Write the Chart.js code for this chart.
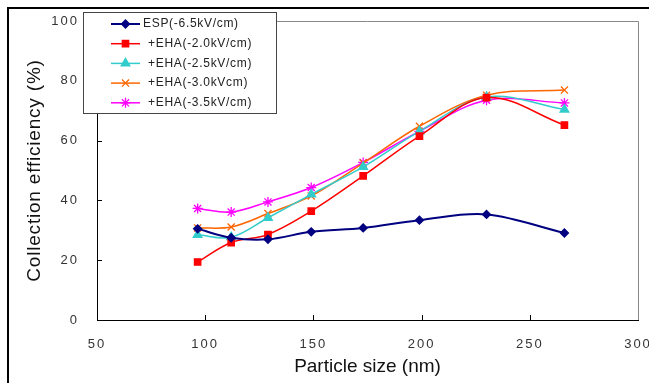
<!DOCTYPE html>
<html lang="en">
<head>
  <meta charset="UTF-8">
  <title>Collection efficiency</title>
  <script src="https://cdn.jsdelivr.net/npm/chart.js"></script>
  <style>
    html, body { margin: 0; padding: 0; background: #fff; }
    .wrap { width: 649px; height: 383px; position: relative; }
  </style>
</head>
<body>
  <div class="wrap"><canvas id="chart" width="649" height="383"></canvas></div>

  <script>
    // Particle sizes (nm)
    const sizes = [96.5, 112, 129, 149, 173, 199, 230, 266];

    // Collection efficiency (%)
    const esp   = [30.5, 27.5, 27.0, 29.5, 30.8, 33.4, 35.3, 29.1];
    const eha20 = [19.4, 25.9, 28.6, 36.4, 48.2, 61.5, 74.4, 65.2];
    const eha25 = [28.5, 27.7, 34.2, 42.0, 51.2, 63.1, 74.6, 70.4];
    const eha30 = [30.8, 31.1, 35.6, 41.5, 52.5, 64.8, 75.2, 76.9];
    const eha35 = [37.3, 36.1, 39.5, 44.3, 52.7, 63.1, 73.5, 72.6];

    const labels = ['ESP(-6.5kV/cm)', '+EHA(-2.0kV/cm)', '+EHA(-2.5kV/cm)', '+EHA(-3.0kVcm)', '+EHA(-3.5kV/cm)'];
    const xTicks = [50, 100, 150, 200, 250, 300];
    const yTicks = [0, 20, 40, 60, 80, 100];

    const FONT = '"Liberation Sans", Arial, sans-serif';

    const series = [
      { data: esp,   color: '#000080', style: 'rectRot',  radius: 4,   width: 2 },
      { data: eha20, color: '#ff0000', style: 'rect',     radius: 4.5, width: 1.5 },
      { data: eha25, color: '#33cccc', style: 'triangle', radius: 5,   width: 1.5 },
      { data: eha30, color: '#ff6600', style: 'crossRot', radius: 5,   width: 1.5 },
      { data: eha35, color: '#ff00ff', style: 'star',     radius: 5,   width: 1.5 }
    ];

    // the original labels are letter-spaced; wrap the scale's own draw calls
    function spaced(scale, labelGap, titleGap) {
      if (scale._spaced) return;
      scale._spaced = true;
      const dl = scale.drawLabels, dt = scale.drawTitle;
      scale.drawLabels = function (a) { this.ctx.save(); this.ctx.letterSpacing = labelGap; dl.call(this, a); this.ctx.restore(); };
      scale.drawTitle = function () { this.ctx.save(); this.ctx.letterSpacing = titleGap; dt.call(this); this.ctx.restore(); };
    }

    // frame, inward tick marks, legend box
    const decor = {
      id: 'decor',
      afterDraw(chart) {
        const ctx = chart.ctx, a = chart.chartArea;
        const xs = chart.scales.x, ys = chart.scales.y;
        ctx.save();
        // outer figure frame
        ctx.strokeStyle = '#000'; ctx.lineWidth = 2;
        ctx.beginPath(); ctx.moveTo(8, 383); ctx.lineTo(8, 8); ctx.lineTo(649, 8); ctx.stroke();
        // grey top/right of plot
        ctx.strokeStyle = '#888'; ctx.lineWidth = 1;
        ctx.beginPath();
        ctx.moveTo(a.left, a.top + 0.5); ctx.lineTo(a.right + 0.5, a.top + 0.5); ctx.lineTo(a.right + 0.5, a.bottom);
        ctx.stroke();
        // inward ticks
        ctx.strokeStyle = '#000';
        ctx.beginPath();
        xTicks.slice(1, -1).forEach(v => {
          const px = Math.round(xs.getPixelForValue(v)) + 0.5;
          ctx.moveTo(px, a.bottom); ctx.lineTo(px, a.bottom - 5);
        });
        yTicks.slice(1, -1).forEach(v => {
          const py = Math.round(ys.getPixelForValue(v)) + 0.5;
          ctx.moveTo(a.left, py); ctx.lineTo(a.left + 5, py);
        });
        ctx.stroke();
        // legend
        ctx.fillStyle = '#fff';
        ctx.fillRect(83, 12, 193, 101);
        ctx.strokeStyle = '#444'; ctx.lineWidth = 1;
        ctx.strokeRect(83.5, 12.5, 193, 101);
        ctx.font = '12px ' + FONT;
        ctx.letterSpacing = '0.7px';
        ctx.textBaseline = 'middle';
        series.forEach((s, i) => {
          const y = 24 + i * 19.7;
          ctx.strokeStyle = s.color; ctx.lineWidth = s.width;
          ctx.beginPath(); ctx.moveTo(111, y); ctx.lineTo(140, y); ctx.stroke();
          ctx.fillStyle = s.color; ctx.lineWidth = 1.3;
          Chart.helpers.drawPoint(ctx, { pointStyle: s.style, radius: s.radius, rotation: 0, borderWidth: 1.3 }, 125.5, y);
          ctx.fillStyle = '#222';
          ctx.fillText(labels[i], i === 0 ? 143 : 148, y);
        });
        ctx.restore();
      }
    };

    new Chart(document.getElementById('chart'), {
      type: 'line',
      data: {
        datasets: series.map((s, i) => ({
          label: labels[i],
          data: s.data.map((v, j) => ({ x: sizes[j], y: v })),
          borderColor: s.color,
          backgroundColor: s.color,
          borderWidth: s.width,
          pointStyle: s.style,
          pointRadius: s.radius,
          pointBorderWidth: 1.3,
          tension: 0.35,
          fill: false
        }))
      },
      options: {
        responsive: false,
        animation: false,
        layout: { padding: { top: 21, right: 11, left: 0, bottom: 0 } },
        plugins: { legend: { display: false }, tooltip: { enabled: false } },
        scales: {
          x: {
            type: 'linear', min: 50, max: 300,
            afterBuildTicks: s => { s.ticks = xTicks.map(v => ({ value: v })); },
            afterFit: s => { s.height = 63; s.paddingLeft = 0; s.paddingRight = 0; spaced(s, '2px', '0px'); },
            grid: { display: false, drawTicks: false },
            border: { color: '#000', width: 1 },
            ticks: { color: '#333', padding: 17, maxRotation: 0, font: { family: FONT, size: 13 } },
            title: { display: true, text: 'Particle size (nm)', color: '#111', padding: { top: 0, bottom: 5 },
                     font: { family: FONT, size: 19 } }
          },
          y: {
            min: 0, max: 100,
            afterBuildTicks: s => { s.ticks = yTicks.map(v => ({ value: v })); },
            afterFit: s => { s.width = 97; s.paddingTop = 0; s.paddingBottom = 0; spaced(s, '2px', '0.8px'); },
            grid: { display: false, drawTicks: false },
            border: { color: '#000', width: 1 },
            ticks: { color: '#333', padding: 18, font: { family: FONT, size: 13 } },
            title: { display: true, text: 'Collection efficiency (%)', color: '#111', padding: { top: 23, bottom: 0 },
                     font: { family: FONT, size: 19 } }
          }
        }
      },
      plugins: [decor]
    });
  </script>
</body>
</html>
